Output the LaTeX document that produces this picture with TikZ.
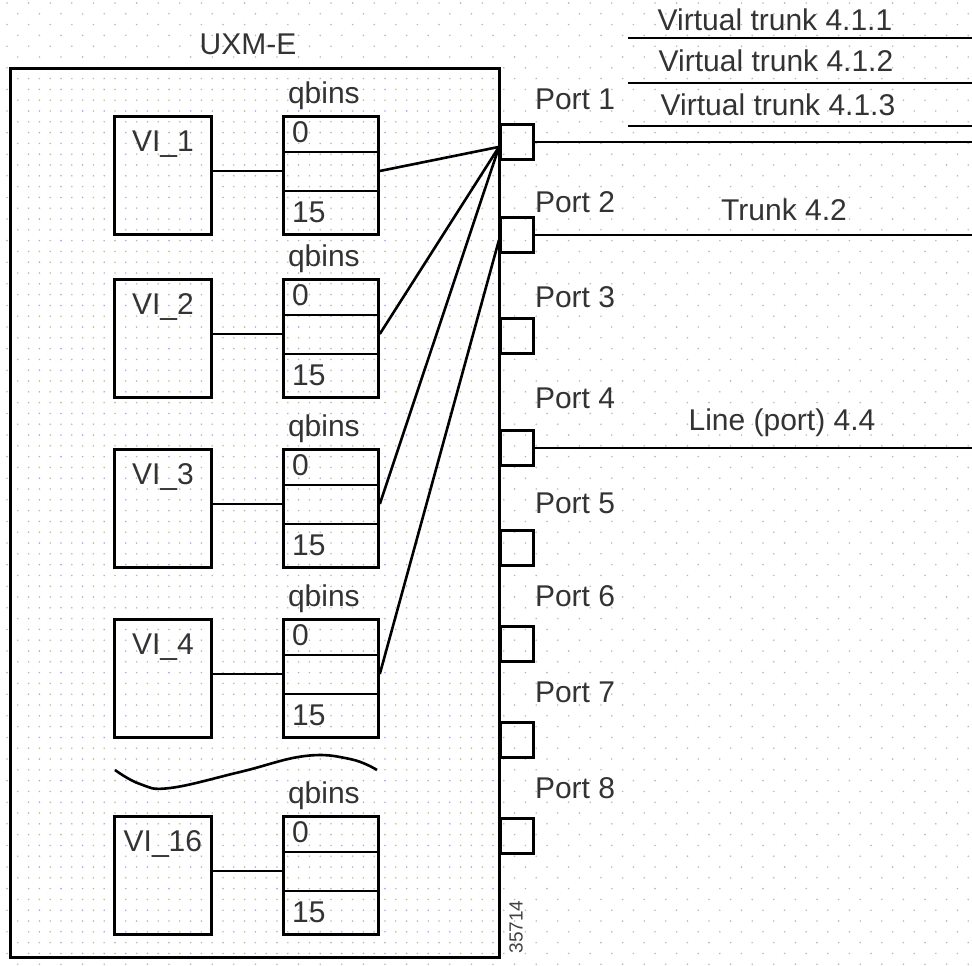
\documentclass[tikz,border=0pt]{standalone}
\usepackage{fontspec}
\setmainfont{Liberation Sans}
\usetikzlibrary{calc,positioning}
\tikzset{
  ubox/.style={draw,line width=2.8pt,minimum width=97pt,minimum height=118pt,inner sep=0pt,anchor=north west},
  qbox/.style={draw,line width=2.8pt,minimum width=95pt,minimum height=118pt,inner sep=0pt,anchor=north west},
  pbox/.style={draw,line width=2.8pt,minimum width=33pt,minimum height=35pt,inner sep=0pt,anchor=north west},
  txt/.style={font=\fontsize{30}{36}\selectfont,text=black!80,inner sep=0pt},
  wire/.style={line width=2.6pt},
  gdot/.style={fill=gray!55},
  bdot/.style={fill=blue!35},
}
\newcommand{\qbins}[3]{% #1 = name, #2 = x of left edge, #3 = y of top edge
  \node[qbox] (#1) at (#2,#3) {};
  \draw[line width=2.8pt] ($(#1.north west)+(0,37)$) -- ($(#1.north east)+(0,37)$);
  \draw[line width=2.8pt] ($(#1.north west)+(0,76)$) -- ($(#1.north east)+(0,76)$);
  \node[txt,anchor=base west] (#1-lo) at ($(#1.north west)+(10,27)$) {0};
  \node[txt,anchor=base west] (#1-hi) at ($(#1.north west)+(10,107)$) {15};
  \node[txt,anchor=base] (#1-lab) at ($(#1.north)+(-7,-12)$) {qbins};
  \coordinate (#1-mid) at ($(#1.north east)+(0,56)$);}

\begin{document}
\begin{tikzpicture}[x=1pt,y=-1pt]
\useasboundingbox (0,0) rectangle (972,966);
% dotted sheet
\foreach \i in {0,...,89}{
  \pgfmathsetmacro{\yy}{3+10.8*\i}
  \pgfmathsetmacro{\xo}{7+10.8*mod(\i,2)}
  \pgfmathsetmacro{\xi}{7+10.8*(1-mod(\i,2))}
  \foreach \j in {0,...,44}{
    \fill[gdot] (\xo+21.6*\j,\yy) circle (0.9);}
  \ifdim\yy pt>70pt\ifdim\yy pt<954pt
    \foreach \j in {1,...,22}{
      \ifodd\i\fill[gdot] (\xi+21.6*\j,\yy) circle (0.9);
      \else\fill[bdot] (\xi+21.6*\j,\yy) circle (0.9);\fi}
  \fi\fi}
% the card
\node[draw,line width=3pt,minimum width=489pt,minimum height=889pt,inner sep=0pt,anchor=north west] (uxm) at (9,67) {};
\node[txt,anchor=base] (uxm-lab) at ($(uxm.north)+(-7,-12)$) {UXM-E};
% virtual interfaces and their qbins
\foreach \n/\t in {1/115,2/278,3/448,4/618,16/815}{
  \node[ubox] (vi\n) at (113,\t) {};
  \node[txt,anchor=base] (vi\n-lab) at ($(vi\n.north)+(0,36)$) {VI\_\n};
  \qbins{q\n}{282}{\t}
  \draw[wire] (vi\n.east |- q\n-mid) -- (q\n-mid -| q\n.west);}
\draw[line width=2.6pt] plot[smooth,tension=0.7] coordinates {(115,770) (140,784) (170,788) (240,772) (305,756) (350,759) (377,770)};
% ports
\foreach \p/\t/\b in {1/123/110,2/216/212,3/317/307,4/429/408,5/529/513,6/625/606,7/721/702,8/817/798}{
  \node[pbox] (port\p) at (499,\t) {};
  \node[txt,anchor=base west] (port\p-lab) at ($(port\p.north east)+(0,\b-\t)$) {Port \p};}
\coordinate (hub1) at ($(port1.west)+(0,5)$);
\coordinate (hub2) at ($(port2.west)+(0,5)$);
\foreach \n in {1,2,3}{
  \draw[wire] (q\n-mid) -- (hub1);}
\draw[wire] (q4-mid) -- (hub2);
% trunks and lines leaving the card
\coordinate (rim) at (972,0);
\foreach \p in {1,2,4}{
  \draw[wire] (port\p.east) -- (port\p.east -| rim);}
\foreach \k/\y in {1/38,2/83,3/126}{
  \coordinate (vt\k) at (628,\y);
  \draw[wire] (vt\k) -- (vt\k -| rim);}
\node[txt,anchor=base] (vt1-lab) at (775,31) {Virtual trunk 4.1.1};
\node[txt,anchor=base] (vt2-lab) at (776,72) {Virtual trunk 4.1.2};
\node[txt,anchor=base] (vt3-lab) at (778,115) {Virtual trunk 4.1.3};
\node[txt,anchor=base] (t42-lab) at (784,220) {Trunk 4.2};
\node[txt,anchor=base] (l44-lab) at (782,430) {Line (port) 4.4};
\node[font=\fontsize{19}{20}\selectfont,text=black!75,rotate=90,inner sep=0pt] (art) at (516,927) {35714};
\end{tikzpicture}
\end{document}
